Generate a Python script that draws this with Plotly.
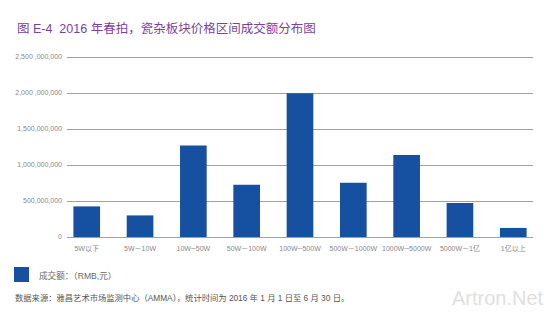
import plotly.graph_objects as go

# Price bands (RMB) and turnover per band
price_bands = ["5W以下", "5W－10W", "10W─50W", "50W－100W", "100W─500W",
               "500W－1000W", "1000W─5000W", "5000W－1亿", "1亿以上"]
turnover = [425e6, 300e6, 1272e6, 725e6, 1995e6, 753e6, 1140e6, 472e6, 126e6]

ytick_vals = [0, 500e6, 1000e6, 1500e6, 2000e6, 2500e6]
ytick_text = ["0", "500,000,000", "1,000,000,000", "1,500,000,000",
              "2,000 ,000,000", "2,500 ,000,000"]

series_name = "成交额：（RMB,元）"
font_family = "Liberation Sans, Noto Sans CJK SC, sans-serif"
bar_color = "#1650A1"

# plot area in pixels (top leaves a little room above the 2.5B gridline)
L, R, T, B = 67, 17, 52, 87
W, H = 550, 324
pw, ph = W - L - R, H - T - B
y_top = 2.5e9 * ph / (H - B - 57)


def px_x(x):
    return (x - L) / pw


def px_y(y):
    return (H - B - y) / ph


fig = go.Figure()
fig.add_trace(go.Bar(
    x=price_bands,
    y=turnover,
    name=series_name,
    marker=dict(color=bar_color, line=dict(width=0)),
    width=0.5,
    showlegend=False,
))

fig.update_layout(
    width=W,
    height=H,
    margin=dict(l=L, r=R, t=T, b=B, autoexpand=False),
    paper_bgcolor="white",
    plot_bgcolor="white",
    font=dict(family=font_family, color="#777777", size=7),
    showlegend=False,
    xaxis=dict(
        range=[-0.37, 8.37],
        showgrid=False,
        showline=False,
        ticks="",
        tickangle=0,
        ticklabelstandoff=6,
        tickfont=dict(size=7, color="#888888"),
        fixedrange=True,
    ),
    yaxis=dict(
        range=[0, y_top],
        tickvals=ytick_vals,
        ticktext=ytick_text,
        showgrid=True,
        gridcolor="#A0A0A0",
        gridwidth=1,
        zeroline=True,
        zerolinecolor="#A0A0A0",
        zerolinewidth=1,
        ticks="",
        ticklabelstandoff=4,
        tickfont=dict(size=7, color="#888888"),
        fixedrange=True,
    ),
    shapes=[
        # legend swatch
        dict(type="rect", xref="paper", yref="paper",
             x0=px_x(14), x1=px_x(29), y0=px_y(282), y1=px_y(267),
             fillcolor=bar_color, line=dict(width=0)),
    ],
    annotations=[
        dict(
            text="图 E-4  2016 年春拍，瓷杂板块价格区间成交额分布图",
            xref="paper", yref="paper", x=px_x(15), y=px_y(29),
            xanchor="left", yanchor="middle", showarrow=False,
            font=dict(size=12.5, color="#7A3FA0", family=font_family),
        ),
        dict(
            text=series_name,
            xref="paper", yref="paper", x=px_x(37), y=px_y(275),
            xanchor="left", yanchor="middle", showarrow=False,
            font=dict(size=8.6, color="#666666", family=font_family),
        ),
        dict(
            text="数据来源：雅昌艺术市场监测中心（AMMA），统计时间为 2016 年 1 月 1 日至 6 月 30 日。",
            xref="paper", yref="paper", x=px_x(13), y=px_y(298),
            xanchor="left", yanchor="middle", showarrow=False,
            font=dict(size=8.3, color="#555555", family=font_family),
        ),
        dict(
            text="Artron.Net",
            xref="paper", yref="paper", x=px_x(546), y=px_y(298),
            xanchor="right", yanchor="middle", showarrow=False,
            font=dict(size=20, color="#E0E0E0", family=font_family),
        ),
    ],
)

fig.write_html("out.html")
